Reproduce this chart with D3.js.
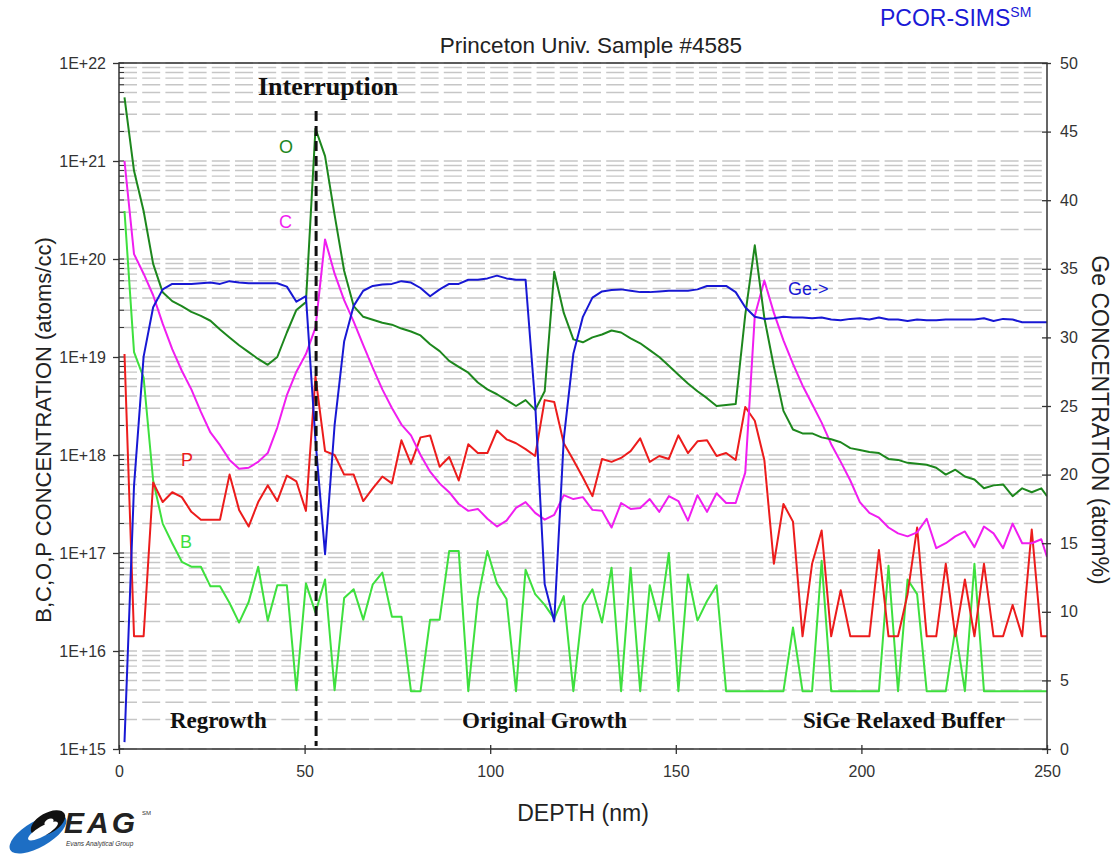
<!DOCTYPE html>
<html><head><meta charset="utf-8">
<script src="https://cdn.jsdelivr.net/npm/d3@7"></script>
<style>body{margin:0;background:#fff;} svg{display:block;}</style>
</head><body>
<svg id="chart" width="1118" height="856"></svg>
<script>
// ---------------- DATA ----------------
// depth in nm (shared sampling grid)
const depth = [1.48, 4.05, 6.63, 9.20, 11.77, 14.34, 16.92, 19.49, 22.06, 24.63,
 27.21, 29.78, 32.35, 34.93, 37.50, 40.07, 42.64, 45.22, 47.79, 50.36,
 52.93, 55.51, 58.08, 60.65, 63.22, 65.80, 68.37, 70.94, 73.52, 76.09,
 78.66, 81.23, 83.81, 86.38, 88.95, 91.52, 94.10, 96.67, 99.24, 101.82,
 104.39, 106.96, 109.53, 112.11, 114.68, 117.25, 119.82, 122.40, 124.97, 127.54,
 130.12, 132.69, 135.26, 137.83, 140.41, 142.98, 145.55, 148.12, 150.70, 153.27,
 155.84, 158.41, 160.99, 163.56, 166.13, 168.71, 171.28, 173.85, 176.42, 179.00,
 181.57, 184.14, 186.71, 189.29, 191.86, 194.43, 197.01, 199.58, 202.15, 204.72,
 207.30, 209.87, 212.44, 215.01, 217.59, 220.16, 222.73, 225.30, 227.88, 230.45,
 233.02, 235.60, 238.17, 240.74, 243.31, 245.89, 248.46, 250.00];

// concentrations as log10(atoms/cc)
const oxygenLog = [21.65, 20.90, 20.49, 19.95, 19.66, 19.57, 19.52, 19.46, 19.42, 19.37,
 19.28, 19.20, 19.12, 19.05, 18.98, 18.92, 19.00, 19.25, 19.48, 19.56,
 21.33, 21.05, 20.45, 19.88, 19.52, 19.41, 19.38, 19.35, 19.33, 19.29,
 19.26, 19.22, 19.13, 19.06, 18.96, 18.90, 18.84, 18.74, 18.67, 18.62,
 18.56, 18.50, 18.56, 18.46, 18.65, 19.87, 19.45, 19.18, 19.15, 19.20,
 19.23, 19.27, 19.25, 19.19, 19.14, 19.07, 19.00, 18.91, 18.82, 18.73,
 18.65, 18.58, 18.50, 18.51, 18.52, 19.43, 20.14, 19.40, 18.90, 18.45,
 18.26, 18.22, 18.22, 18.18, 18.16, 18.13, 18.07, 18.05, 18.03, 18.02,
 17.96, 17.95, 17.92, 17.91, 17.90, 17.87, 17.80, 17.85, 17.78, 17.75,
 17.66, 17.69, 17.70, 17.58, 17.66, 17.62, 17.66, 17.58];

const carbonLog = [21.0, 20.05, 19.85, 19.63, 19.34, 19.08, 18.86, 18.67, 18.44, 18.23,
 18.10, 17.95, 17.86, 17.87, 17.93, 18.02, 18.28, 18.61, 18.85, 19.03,
 19.30, 20.20, 19.85, 19.58, 19.36, 19.12, 18.89, 18.67, 18.48, 18.31,
 18.20, 18.00, 17.83, 17.71, 17.62, 17.50, 17.43, 17.45, 17.35, 17.27,
 17.33, 17.46, 17.52, 17.41, 17.34, 17.39, 17.59, 17.55, 17.57, 17.44,
 17.43, 17.26, 17.51, 17.45, 17.46, 17.55, 17.42, 17.58, 17.53, 17.33,
 17.59, 17.42, 17.61, 17.51, 17.51, 17.82, 19.42, 19.78, 19.45, 19.17,
 18.93, 18.71, 18.52, 18.33, 18.11, 17.93, 17.74, 17.52, 17.41, 17.36,
 17.26, 17.20, 17.17, 17.21, 17.35, 17.05, 17.10, 17.17, 17.22, 17.06,
 17.27, 17.20, 17.05, 17.30, 17.10, 17.10, 17.14, 16.96];

const phosphorusLog = [19.03, 16.15, 16.15, 17.72, 17.52, 17.62, 17.57, 17.42, 17.34, 17.34,
 17.34, 17.80, 17.44, 17.27, 17.52, 17.69, 17.53, 17.79, 17.73, 17.43,
 18.80, 18.04, 18.00, 17.80, 17.80, 17.53, 17.66, 17.78, 17.71, 18.15,
 17.91, 18.18, 18.20, 17.88, 17.98, 17.74, 18.11, 18.02, 18.02, 18.25,
 18.16, 18.12, 18.06, 17.99, 18.56, 18.54, 18.12, 17.95, 17.77, 17.58,
 17.96, 17.93, 17.97, 18.04, 18.17, 17.93, 17.99, 17.96, 18.20, 18.02,
 18.14, 18.15, 17.99, 18.02, 17.95, 18.49, 18.35, 17.95, 16.89, 17.50,
 17.32, 16.15, 16.89, 17.23, 16.15, 16.62, 16.15, 16.15, 16.15, 17.03,
 16.15, 16.15, 16.58, 17.26, 16.15, 16.15, 16.89, 16.15, 16.73, 16.15,
 16.89, 16.15, 16.15, 16.47, 16.15, 17.24, 16.15, 16.15];

const boronLog = [20.49, 19.05, 18.79, 17.74, 17.30, 17.10, 16.91, 16.86, 16.86, 16.66,
 16.66, 16.49, 16.29, 16.50, 16.86, 16.31, 16.67, 16.67, 15.60, 16.69,
 16.39, 16.73, 15.60, 16.54, 16.63, 16.32, 16.68, 16.80, 16.35, 16.35,
 15.59, 15.59, 16.32, 16.32, 17.02, 17.02, 15.59, 16.53, 17.02, 16.69,
 16.53, 15.59, 16.83, 16.58, 16.47, 16.33, 16.56, 15.59, 16.47, 16.63,
 16.29, 16.85, 15.59, 16.85, 15.59, 16.67, 16.31, 17.00, 15.59, 16.78,
 16.31, 16.51, 16.67, 15.59, 15.59, 15.59, 15.59, 15.59, 15.59, 15.59,
 16.24, 15.59, 15.59, 16.92, 15.59, 15.59, 15.59, 15.59, 15.59, 15.59,
 16.87, 15.59, 16.73, 16.58, 15.59, 15.59, 15.59, 16.22, 15.59, 16.89,
 15.59, 15.59, 15.59, 15.59, 15.59, 15.59, 15.59, 15.59];

// Ge in atom %
const germanium = [0.5, 19.2, 28.6, 32.2, 33.5, 33.9, 33.9, 33.9, 33.95, 34.0,
 33.9, 34.1, 34.0, 33.95, 33.95, 33.95, 33.95, 33.7, 32.6, 33.0,
 22.5, 14.2, 23.6, 29.7, 32.3, 33.4, 33.75, 33.85, 33.9, 34.1,
 34.0, 33.6, 33.0, 33.5, 33.9, 33.9, 34.2, 34.2, 34.3, 34.5,
 34.3, 34.2, 34.2, 25.2, 12.0, 9.3, 22.6, 28.8, 31.5, 32.9,
 33.35, 33.45, 33.5, 33.4, 33.3, 33.3, 33.35, 33.4, 33.4, 33.4,
 33.5, 33.75, 33.75, 33.75, 33.3, 32.2, 31.5, 31.35, 31.4, 31.5,
 31.45, 31.45, 31.4, 31.45, 31.3, 31.25, 31.35, 31.4, 31.3, 31.45,
 31.3, 31.3, 31.2, 31.3, 31.25, 31.25, 31.3, 31.3, 31.3, 31.3,
 31.4, 31.2, 31.35, 31.3, 31.1, 31.1, 31.1, 31.1];

const leftTickValues = [1e15, 1e16, 1e17, 1e18, 1e19, 1e20, 1e21, 1e22];
const leftTickLabels = ["1E+15", "1E+16", "1E+17", "1E+18", "1E+19", "1E+20", "1E+21", "1E+22"];
const rightTickValues = [0, 5, 10, 15, 20, 25, 30, 35, 40, 45, 50];
const xTickValues = [0, 50, 100, 150, 200, 250];
const interruptionDepth = 53.1;

const regionLabels = ["Regrowth", "Original Growth", "SiGe Relaxed Buffer"];

// ---------------- CHART ----------------
const svg = d3.select("#chart");
const M = {l: 119, r: 1047, t: 63, b: 749};
const x = d3.scaleLinear().domain([0, 250]).range([M.l, M.r]);
const yL = d3.scaleLog().domain([1e15, 1e22]).range([M.b, M.t]);
const yR = d3.scaleLinear().domain([0, 50]).range([M.b, M.t]);
const SANS = "Arial, 'Liberation Sans', sans-serif";
const SERIF = "'Times New Roman', 'Liberation Serif', serif";

svg.append("rect").attr("width", 1118).attr("height", 856).attr("fill", "#fff");

// gridlines at every log minor/major value
const gridVals = [];
for (let d = 15; d < 22; d++) for (let m = 1; m <= 9; m++) gridVals.push(m * Math.pow(10, d));
gridVals.push(1e22);
svg.append("g").selectAll("line").data(gridVals).join("line")
  .attr("x1", M.l).attr("x2", M.r)
  .attr("y1", d => yL(d)).attr("y2", d => yL(d))
  .attr("stroke", "#c6c6c6").attr("stroke-width", 1.3)
  .attr("stroke-dasharray", "18,5.2");

// left minor ticks (inside)
svg.append("g").selectAll("line").data(gridVals).join("line")
  .attr("x1", M.l).attr("x2", M.l + 5)
  .attr("y1", d => yL(d)).attr("y2", d => yL(d))
  .attr("stroke", "#333").attr("stroke-width", 1);

// clip
svg.append("clipPath").attr("id", "clip").append("rect")
  .attr("x", M.l).attr("y", M.t).attr("width", M.r - M.l).attr("height", M.b - M.t);

const lineLog = d3.line().x((d, i) => x(depth[i])).y(d => yL(Math.pow(10, d)));
const lineGe = d3.line().x((d, i) => x(depth[i])).y(d => yR(d));

const plot = svg.append("g").attr("clip-path", "url(#clip)");
const series = [
  {data: boronLog, color: "#3ee03e", gen: lineLog},
  {data: phosphorusLog, color: "#ec1c1c", gen: lineLog},
  {data: carbonLog, color: "#f01ef0", gen: lineLog},
  {data: oxygenLog, color: "#1d871d", gen: lineLog},
  {data: germanium, color: "#1818d4", gen: lineGe}
];
series.forEach(s => {
  plot.append("path").attr("d", s.gen(s.data)).attr("fill", "none")
    .attr("stroke", s.color).attr("stroke-width", 2).attr("stroke-linejoin", "round");
});

// interruption dashed line
svg.append("line")
  .attr("x1", x(interruptionDepth)).attr("x2", x(interruptionDepth))
  .attr("y1", 111).attr("y2", 746)
  .attr("stroke", "#111").attr("stroke-width", 3).attr("stroke-dasharray", "10,5");

// frame
svg.append("rect").attr("x", M.l).attr("y", M.t).attr("width", M.r - M.l).attr("height", M.b - M.t)
  .attr("fill", "none").attr("stroke", "#333").attr("stroke-width", 1.5);

// left axis
const axL = svg.append("g").attr("transform", `translate(${M.l},0)`)
  .call(d3.axisLeft(yL).tickValues(leftTickValues).tickFormat((d, i) => leftTickLabels[i]).tickSize(6).tickPadding(7));
axL.select(".domain").remove();
axL.selectAll("line").attr("stroke", "#333").attr("stroke-width", 1.3);
axL.selectAll("text").attr("font-family", SANS).attr("font-size", 16).attr("fill", "#333");

// right axis
const axR = svg.append("g").attr("transform", `translate(${M.r},0)`)
  .call(d3.axisRight(yR).tickValues(rightTickValues).tickFormat(d3.format("d")).tickSize(4).tickPadding(9));
axR.select(".domain").remove();
axR.selectAll("line").attr("x1", -5).attr("stroke", "#333").attr("stroke-width", 1.3);
axR.selectAll("text").attr("font-family", SANS).attr("font-size", 16).attr("fill", "#333");

// bottom axis
const axB = svg.append("g").attr("transform", `translate(0,${M.b})`)
  .call(d3.axisBottom(x).tickValues(xTickValues).tickFormat(d3.format("d")).tickSize(5).tickPadding(12));
axB.select(".domain").remove();
axB.selectAll("line").attr("y1", -4).attr("stroke", "#333").attr("stroke-width", 1.3);
axB.selectAll("text").attr("font-family", SANS).attr("font-size", 16).attr("fill", "#333");

// titles
svg.append("text").attr("x", 591).attr("y", 53).attr("text-anchor", "middle")
  .attr("font-family", SANS).attr("font-size", 22.5).attr("fill", "#222")
  .text("Princeton Univ. Sample #4585");
const pc = svg.append("text").attr("x", 880).attr("y", 26)
  .attr("font-family", SANS).attr("font-size", 23).attr("fill", "#1a1ad6");
pc.append("tspan").text("PCOR-SIMS");
pc.append("tspan").attr("font-size", 14).attr("dy", -9).text("SM");

svg.append("text").attr("transform", "translate(51,430) rotate(-90)").attr("text-anchor", "middle")
  .attr("font-family", SANS).attr("font-size", 22).attr("fill", "#222")
  .text("B,C,O,P CONCENTRATION (atoms/cc)");
svg.append("text").attr("transform", "translate(1092,420) rotate(90)").attr("text-anchor", "middle")
  .attr("font-family", SANS).attr("font-size", 23).attr("fill", "#222")
  .text("Ge CONCENTRATION (atom%)");
svg.append("text").attr("x", 583).attr("y", 821).attr("text-anchor", "middle")
  .attr("font-family", SANS).attr("font-size", 23).attr("fill", "#222")
  .text("DEPTH (nm)");

// annotations
svg.append("text").attr("x", 258).attr("y", 95)
  .attr("font-family", SERIF).attr("font-weight", "bold").attr("font-size", 26).attr("fill", "#111")
  .text("Interruption");
const regionX = [170, 462, 803];
regionLabels.forEach((t, i) => {
  svg.append("text").attr("x", regionX[i]).attr("y", 728)
    .attr("font-family", SERIF).attr("font-weight", "bold").attr("font-size", 23).attr("fill", "#111")
    .text(t);
});
const seriesLabels = [
  {t: "O", x: 279, y: 153, c: "#1d871d"},
  {t: "C", x: 279, y: 228, c: "#f01ef0"},
  {t: "P", x: 181, y: 466, c: "#ec1c1c"},
  {t: "B", x: 180, y: 548, c: "#3ee03e"},
  {t: "Ge->", x: 788, y: 295, c: "#1818d4"}
];
seriesLabels.forEach(s => {
  svg.append("text").attr("x", s.x).attr("y", s.y).attr("font-family", SANS)
    .attr("font-size", 18).attr("fill", s.c).text(s.t);
});

// EAG logo
const logo = svg.append("g");
logo.append("ellipse").attr("cx", 38).attr("cy", 834).attr("rx", 32).attr("ry", 13)
  .attr("transform", "rotate(-30 38 834)").attr("fill", "#1d6ec4");
logo.append("ellipse").attr("cx", 48).attr("cy", 823).attr("rx", 19).attr("ry", 10)
  .attr("transform", "rotate(-30 48 823)").attr("fill", "#111");
logo.append("ellipse").attr("cx", 43).attr("cy", 831).attr("rx", 17).attr("ry", 5)
  .attr("transform", "rotate(-30 43 831)").attr("fill", "#fff");
logo.append("ellipse").attr("cx", 49).attr("cy", 822).attr("rx", 5).attr("ry", 3)
  .attr("transform", "rotate(-30 49 822)").attr("fill", "#fff");
logo.append("text").attr("x", 64).attr("y", 833).attr("font-family", SANS)
  .attr("font-weight", "bold").attr("font-style", "italic").attr("font-size", 30)
  .attr("letter-spacing", 3).attr("fill", "#222").text("EAG");
logo.append("text").attr("x", 142).attr("y", 815).attr("font-family", SANS)
  .attr("font-size", 6).attr("fill", "#333").text("SM");
logo.append("text").attr("x", 66).attr("y", 846).attr("font-family", SANS)
  .attr("font-style", "italic").attr("font-size", 6.5).attr("fill", "#333").text("Evans Analytical Group");
</script>
</body></html>
